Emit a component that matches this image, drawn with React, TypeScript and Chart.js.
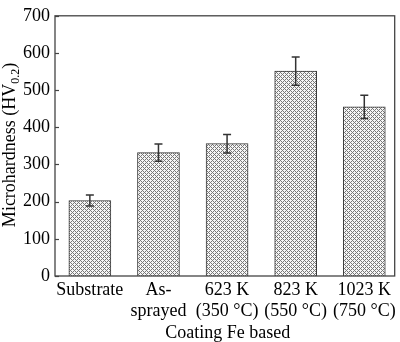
import React, { useEffect, useRef } from "react";
import { Chart, registerables } from "chart.js";

Chart.register(...registerables);

const categories: string[][] = [
  ["Substrate"],
  ["As-", "sprayed"],
  ["623 K", "(350 °C)"],
  ["823 K", "(550 °C)"],
  ["1023 K", "(750 °C)"],
];
const hardness: number[] = [203, 332, 356, 551, 455];
const hardnessError: number[] = [15, 23, 25, 38, 31];
const yTicks: number[] = [0, 100, 200, 300, 400, 500, 600, 700];
const xTitle = "Coating Fe based";
const yTitleMain = "Microhardness (HV";
const yTitleSub = "0.2";
const yTitleEnd = ")";

const FONT = "'Liberation Serif', 'DejaVu Serif', serif";

function makePattern(): CanvasPattern | string {
  const c = document.createElement("canvas");
  c.width = 4;
  c.height = 4;
  const g = c.getContext("2d");
  if (!g) return "#c4c4c4";
  g.fillStyle = "#f6f6f6";
  g.fillRect(0, 0, 4, 4);
  g.fillStyle = "#787878";
  for (let x = 0; x < 4; x++) {
    for (let y = 0; y < 4; y++) {
      if ((x + y) % 4 === 0 || (((x - y) % 4) + 4) % 4 === 0) g.fillRect(x, y, 1, 1);
    }
  }
  const p = g.createPattern(c, "repeat");
  return p || "#c4c4c4";
}

const decorPlugin = {
  id: "decor",
  afterDatasetsDraw(chart: any) {
    const ctx = chart.ctx;
    const xs = chart.scales.x;
    const ys = chart.scales.y;
    const area = chart.chartArea;
    ctx.save();
    // error bars
    ctx.strokeStyle = "#333";
    ctx.lineWidth = 1.5;
    hardness.forEach((v, i) => {
      const px = xs.getPixelForValue(i);
      const top = ys.getPixelForValue(v + hardnessError[i]);
      const bot = ys.getPixelForValue(v - hardnessError[i]);
      ctx.beginPath();
      ctx.moveTo(px, top);
      ctx.lineTo(px, bot);
      ctx.moveTo(px - 4, top);
      ctx.lineTo(px + 4, top);
      ctx.moveTo(px - 4, bot);
      ctx.lineTo(px + 4, bot);
      ctx.stroke();
    });
    // frame
    ctx.strokeStyle = "#444";
    ctx.lineWidth = 1.3;
    ctx.strokeRect(area.left, area.top, area.right - area.left, area.bottom - area.top);
    // inward y ticks
    ctx.lineWidth = 1.2;
    yTicks.forEach((t) => {
      const py = Math.round(ys.getPixelForValue(t)) + 0.5;
      ctx.beginPath();
      ctx.moveTo(area.left, py);
      ctx.lineTo(area.left + 4, py);
      ctx.stroke();
    });
    // x title
    ctx.fillStyle = "#000";
    ctx.font = `18px ${FONT}`;
    ctx.textAlign = "center";
    ctx.textBaseline = "alphabetic";
    ctx.fillText(xTitle, (area.left + area.right) / 2 + 3, 338);
    // y title with subscript
    const mainFont = `18px ${FONT}`;
    const subFont = `12px ${FONT}`;
    ctx.font = mainFont;
    const w1 = ctx.measureText(yTitleMain).width;
    const w3 = ctx.measureText(yTitleEnd).width;
    ctx.font = subFont;
    const w2 = ctx.measureText(yTitleSub).width;
    const total = w1 + w2 + w3;
    const cy = (area.top + area.bottom) / 2 - 1;
    ctx.translate(15, cy);
    ctx.rotate(-Math.PI / 2);
    ctx.textAlign = "left";
    let x0 = -total / 2;
    ctx.font = mainFont;
    ctx.fillText(yTitleMain, x0, 0);
    x0 += w1;
    ctx.font = subFont;
    ctx.fillText(yTitleSub, x0, 4);
    x0 += w2;
    ctx.font = mainFont;
    ctx.fillText(yTitleEnd, x0, 0);
    ctx.restore();
  },
};

export default function App() {
  const ref = useRef<HTMLCanvasElement | null>(null);
  useEffect(() => {
    document.body.style.margin = "0";
    if (!ref.current) return;
    const pattern = makePattern();
    const chart = new Chart(ref.current, {
      type: "bar",
      data: {
        datasets: [
          {
            data: hardness.map((v, i) => ({ x: i, y: v })),
            backgroundColor: pattern as any,
            borderColor: "#3a3a3a",
            borderWidth: 1,
            barThickness: 42,
          } as any,
        ],
      },
      options: {
        animation: false,
        responsive: false,
        maintainAspectRatio: false,
        layout: { padding: { left: 0, right: 4, top: 4, bottom: 0 } },
        plugins: { legend: { display: false }, tooltip: { enabled: false } },
        scales: {
          x: {
            type: "linear",
            offset: false,
            min: -0.508,
            max: 4.443,
            grid: { display: false, drawTicks: false, offset: false },
            border: { display: false },
            afterBuildTicks: (s: any) => {
              s.ticks = categories.map((_, i) => ({ value: i }));
            },
            afterFit: (s: any) => {
              s.height = 66;
            },
            ticks: {
              autoSkip: false,
              maxRotation: 0,
              padding: 4,
              color: "#000",
              font: { family: FONT, size: 18, lineHeight: 1.15 },
              callback: (v: any) => categories[Number(v)] ?? "",
            },
          },
          y: {
            min: 0,
            max: 700,
            grid: { display: false, drawTicks: false },
            border: { display: false },
            afterBuildTicks: (s: any) => {
              s.ticks = yTicks.map((v) => ({ value: v }));
            },
            afterFit: (s: any) => {
              s.width = 55;
            },
            ticks: {
              padding: 5,
              color: "#000",
              font: { family: FONT, size: 18 },
            },
          },
        },
      },
      plugins: [decorPlugin],
    });
    return () => chart.destroy();
  }, []);
  return (
    <div style={{ width: 400, height: 342, background: "#fff" }}>
      <canvas ref={ref} width={400} height={342} style={{ display: "block" }} />
    </div>
  );
}
